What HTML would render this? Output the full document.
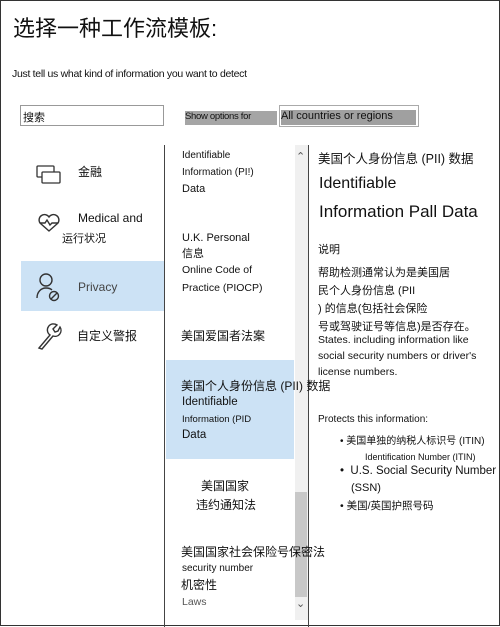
<!DOCTYPE html>
<html><head><meta charset="utf-8"><style>
*{margin:0;padding:0;box-sizing:border-box}
body{width:500px;height:627px;background:#fff;position:relative;overflow:hidden;font-family:"Liberation Sans","Noto Sans CJK SC",sans-serif;color:#111}
.a{position:absolute;white-space:nowrap}
.frame{position:absolute;left:0;top:0;width:500px;height:626px;border:1px solid #333}
.s{font-size:11px}
.m{font-size:12px}
</style></head><body>
<div class="frame"></div>
<div class="a" style="left:13px;top:11px;font-size:22px;">选择一种工作流模板:</div>
<div class="a" style="left:12px;top:68px;font-size:10.5px;letter-spacing:-0.3px">Just tell us what kind of information you want to detect</div>
<div class="a" style="left:20px;top:105px;width:144px;height:21px;border:1px solid #999;font-size:11px;padding:3px 2px">搜索</div>
<div class="a" style="left:185px;top:111px;width:92px;height:14px;background:#a5a5a5;font-size:9.5px;padding-top:0px;letter-spacing:-0.3px">Show options for</div>
<div class="a" style="left:279px;top:105px;width:140px;height:22px;border:1px solid #aaa;"></div>
<div class="a" style="left:281px;top:110px;width:135px;height:15px;background:#a0a0a0;font-size:11px">All countries or regions</div>
<div class="a" style="left:164px;top:145px;width:1px;height:482px;background:#444"></div>
<div class="a" style="left:308px;top:145px;width:1px;height:482px;background:#444"></div>
<div class="a" style="left:295px;top:145px;width:13px;height:475px;background:#f0f0f0"></div>
<div class="a" style="left:295px;top:492px;width:12px;height:105px;background:#c8c8c8"></div>
<div class="a" style="left:296px;top:150px;font-size:11px;color:#555">&#8963;</div>
<div class="a" style="left:296px;top:597px;font-size:11px;color:#555">&#8964;</div>
<div class="a" style="left:21px;top:261px;width:143px;height:50px;background:#cce2f5"></div>
<svg class="a" style="left:36px;top:165px" width="26" height="20" viewBox="0 0 26 20" fill="none" stroke="#333" stroke-width="1.3"><rect x="1" y="1" width="17" height="11" rx="1"/><rect x="6" y="7" width="18" height="11" rx="1" fill="#fff"/></svg>
<div class="a m" style="left:78px;top:163px">金融</div>
<svg class="a" style="left:37px;top:213px" width="24" height="20" viewBox="0 0 24 20" fill="none" stroke="#333" stroke-width="1.4"><path d="M12 18 L3 10 A5 5 0 0 1 12 4 A5 5 0 0 1 21 10 Z"/><path d="M3 10h5l2-3 3 5 2-2h6"/></svg>
<div class="a m" style="left:78px;top:211px">Medical and</div>
<div class="a s" style="left:62px;top:230px">运行状况</div>
<svg class="a" style="left:35px;top:272px" width="28" height="30" viewBox="0 0 28 30" fill="none" stroke="#333" stroke-width="1.4"><circle cx="11" cy="8" r="6"/><path d="M2 26c0-6 4-10 9-10 3 0 5 1 6 2"/><circle cx="19" cy="24" r="4.5"/><path d="M16 27l6-6"/></svg>
<div class="a m" style="left:78px;top:280px;color:#444">Privacy</div>
<svg class="a" style="left:36px;top:321px" width="26" height="30" viewBox="0 0 26 30" fill="none" stroke="#333" stroke-width="1.4"><path d="M3 27 L14 14 A6 6 0 0 1 21 4 L17 8 L19 11 L22 10 L24 6 A6 6 0 0 1 17 15 L6 28 Z"/></svg>
<div class="a m" style="left:77px;top:327px">自定义警报</div>
<div class="a" style="left:166px;top:360px;width:128px;height:99px;background:#cce2f5"></div>
<div class="a" style="left:182px;top:148px;font-size:10px;line-height:16.5px">Identifiable<br>Information (PI!)<br><span style="font-size:11px">Data</span></div>
<div class="a" style="left:182px;top:230px;font-size:11px;line-height:16px">U.K. Personal<br>信息<br><span style="font-size:10.5px">Online Code of</span></div>
<div class="a" style="left:182px;top:282px;font-size:10.5px">Practice (PIOCP)</div>
<div class="a" style="left:181px;top:327px;font-size:12px">美国爱国者法案</div>
<div class="a" style="left:181px;top:377px;font-size:12px">美国个人身份信息 (PII) 数据</div>
<div class="a" style="left:182px;top:396px;font-size:11.5px">Identifiable</div>
<div class="a" style="left:182px;top:414px;font-size:9.5px">Information (PID</div>
<div class="a" style="left:182px;top:429px;font-size:11.5px">Data</div>
<div class="a" style="left:201px;top:477px;font-size:12px;line-height:19px">美国国家<br><span style="margin-left:-5px">违约通知法</span></div>
<div class="a" style="left:181px;top:543px;font-size:12px">美国国家社会保险号保密法</div>
<div class="a" style="left:182px;top:563px;font-size:10px">security number</div>
<div class="a" style="left:181px;top:576px;font-size:12px">机密性</div>
<div class="a" style="left:182px;top:596px;font-size:10.5px;color:#555">Laws</div>
<div class="a" style="left:318px;top:148px;font-size:12.5px">美国个人身份信息 (PII) 数据</div>
<div class="a" style="left:319px;top:175px;font-size:16px">Identifiable</div>
<div class="a" style="left:319px;top:202px;font-size:17px">Information Pall Data</div>
<div class="a s" style="left:318px;top:241px">说明</div>
<div class="a s" style="left:318px;top:264px;line-height:18px">帮助检测通常认为是美国居<br>民个人身份信息 (PII<br>) 的信息(包括社会保险<br>号或驾驶证号等信息)是否存在。</div>
<div class="a" style="left:318px;top:332px;font-size:10.5px;line-height:16px">States. including information like<br>social security numbers or driver's<br>license numbers.</div>
<div class="a" style="left:318px;top:414px;font-size:10px">Protects this information:</div>
<div class="a" style="left:340px;top:432px;font-size:10px">• 美国单独的纳税人标识号 (ITIN)</div>
<div class="a" style="left:365px;top:452px;font-size:9px">Identification Number (ITIN)</div>
<div class="a" style="left:340px;top:465px;font-size:11.5px">•&nbsp; U.S. Social Security Number</div>
<div class="a" style="left:351px;top:482px;font-size:11px">(SSN)</div>
<div class="a" style="left:340px;top:498px;font-size:10.5px">• 美国/英国护照号码</div>
</body></html>
